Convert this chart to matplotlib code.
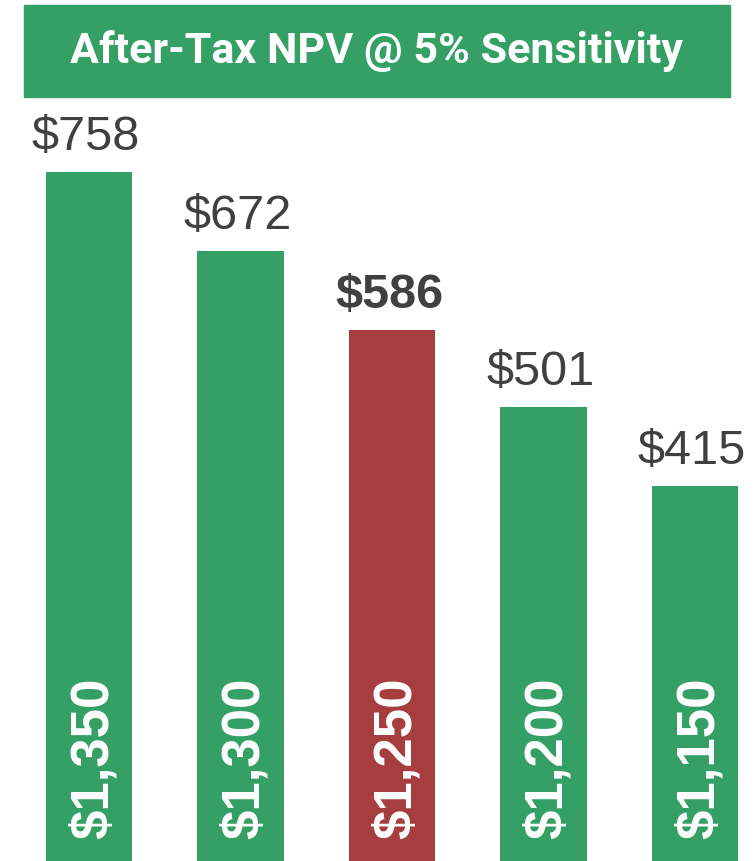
import matplotlib.pyplot as plt
from matplotlib.patches import Rectangle

# values
npv = [758, 672, 586, 501, 415]
prices = ["$1,350", "$1,300", "$1,250", "$1,200", "$1,150"]
base_idx = 2
title = "After-Tax NPV @ 5% Sensitivity"

GREEN = "#35a065"
RED = "#a63e3f"
GREY = "#404040"

fig = plt.figure(figsize=(7.56, 8.61), dpi=100)
ax = fig.add_axes([0, 0, 1, 1])

x = list(range(len(npv)))
colors = [RED if i == base_idx else GREEN for i in x]
ax.bar(x, npv, width=0.57, color=colors)

for i, v in enumerate(npv):
    ax.text(i - 0.02, v + 13, f"${v}", ha="center", va="bottom",
            fontsize=35, color=GREY, family="Liberation Sans",
            fontweight="bold" if i == base_idx else "normal")
    ax.text(i + 0.03, 29, prices[i], rotation=90, ha="center", va="bottom",
            fontsize=38, color="white", family="Liberation Sans",
            fontweight="bold")

ax.set_xlim(-0.587, 4.403)
ax.set_ylim(5.5, 946)
ax.axis("off")

# title banner
fig.patches.append(Rectangle((24 / 756, 1 - 97 / 861), 706 / 756, 92 / 861,
                             transform=fig.transFigure, color=GREEN, zorder=0))
fig.text(376 / 756, 1 - 51 / 861, title, ha="center", va="center",
         fontsize=31, color="white", family="Roboto", fontweight="bold")

fig.savefig("out.png", dpi=100)
